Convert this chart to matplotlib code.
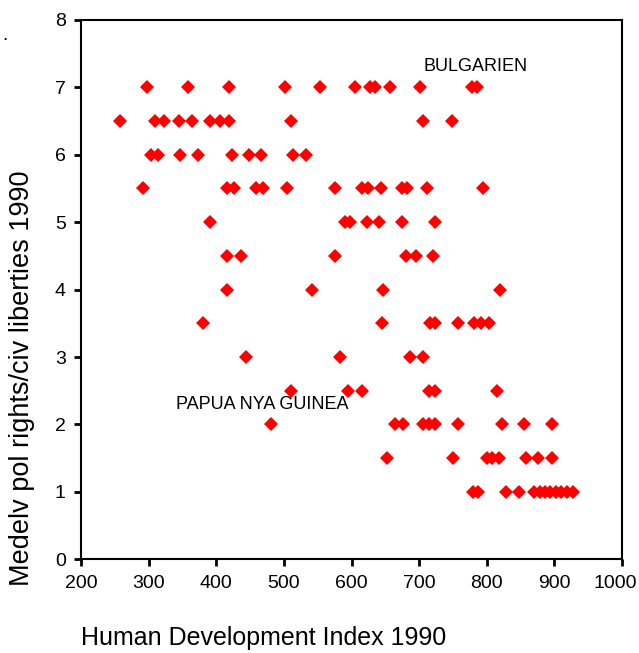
import numpy as np
import matplotlib.pyplot as plt
from matplotlib.transforms import ScaledTranslation

#--------------------------------
# Configurations of the graph
#--------------------------------
plt.rcParams['font.family'] = ['Liberation Sans', 'DejaVu Sans']
plt.rcParams['figure.figsize'] = [6.39, 6.53]
plt.rcParams['figure.dpi'] = 100

#--------------------------------
# Data (HDI 1990 x 1000, pol rights/civ liberties)
#--------------------------------
hdi_70 = [297, 358, 419, 501, 554, 605, 627, 635, 657, 702, 778, 786]
hdi_65 = [257, 309, 322, 345, 364, 390, 405, 419, 511, 706, 749]
hdi_60 = [303, 314, 347, 373, 424, 448, 466, 513, 533]
hdi_55 = [292, 416, 426, 459, 469, 505, 576, 615, 624, 643, 674, 682, 712, 795]
hdi_50 = [390, 590, 598, 623, 640, 675, 723]
hdi_45 = [416, 436, 575, 681, 696, 721]
hdi_40 = [416, 541, 647, 820]
hdi_35 = [381, 645, 716, 723, 758, 781, 792, 803]
hdi_30 = [444, 583, 687, 706]
hdi_25 = [511, 595, 615, 714, 723, 815]
hdi_20 = [481, 665, 676, 705, 714, 724, 758, 823, 855, 897]
hdi_15 = [652, 750, 800, 808, 818, 858, 876, 897]
hdi_10 = [780, 787, 828, 848, 870, 878, 886, 894, 902, 910, 918, 928]

rows = {7.0: hdi_70, 6.5: hdi_65, 6.0: hdi_60, 5.5: hdi_55, 5.0: hdi_50,
        4.5: hdi_45, 4.0: hdi_40, 3.5: hdi_35, 3.0: hdi_30, 2.5: hdi_25,
        2.0: hdi_20, 1.5: hdi_15, 1.0: hdi_10}

x = np.concatenate([np.array(v, dtype=float) for v in rows.values()])
y = np.concatenate([np.full(len(v), k) for k, v in rows.items()])

labels = ['BULGARIEN', 'PAPUA NYA GUINEA']
label_x = [706, 340]
label_y = [7.30, 2.30]

#--------------------------------
# Plotting
#--------------------------------
fig = plt.figure()
ax = fig.add_axes([0.1268, 0.1432, 0.8466, 0.8269])

ax.plot(x, y, linestyle='none', marker='D', markersize=7,
        color='#ff0000', markeredgewidth=0)

for t, lx, ly in zip(labels, label_x, label_y):
    ax.text(lx, ly, t, fontsize=13, ha='left', va='center')

ax.set_xlim(200, 1000)
ax.set_ylim(0, 8)
ax.set_xticks(np.arange(200, 1001, 100))
ax.set_yticks(np.arange(0, 9, 1))
ax.tick_params(direction='out', length=5, width=2, labelsize=14, pad=6)
for spine in ax.spines.values():
    spine.set_linewidth(1.5)

# last x tick label sits against the edge, nudge it in a little
last = ax.get_xticklabels()[-1]
last.set_transform(last.get_transform() + ScaledTranslation(-5 / 72, 0, fig.dpi_scale_trans))

fig.text(0.035, 1 - 378 / 653, 'Medelv pol rights/civ liberties 1990',
         rotation=90, fontsize=19.5, ha='center', va='center')
fig.text(81 / 639, 1 - 638 / 653, 'Human Development Index 1990',
         fontsize=18, ha='left', va='center')
fig.text(0.004, 1 - 36 / 653, '.', fontsize=14, ha='left', va='center')

plt.savefig('out.png')
